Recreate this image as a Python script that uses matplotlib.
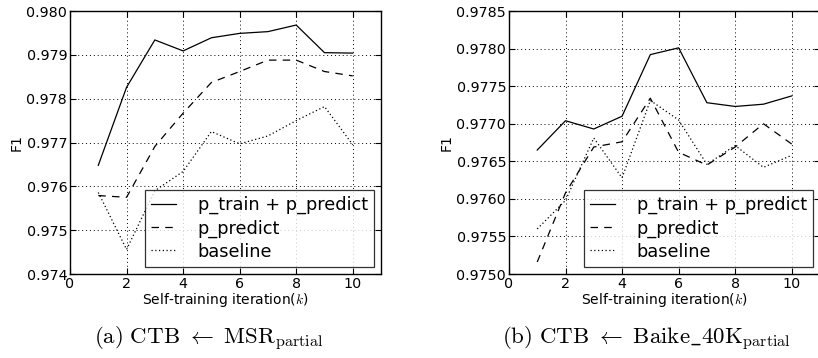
import matplotlib
matplotlib.use("Agg")
import matplotlib.pyplot as plt

# Self-training iterations
iters = [1, 2, 3, 4, 5, 6, 7, 8, 9, 10]

# (a) CTB <- MSR_partial
msr_train_predict = [0.97648, 0.97826, 0.97934, 0.97909, 0.97939, 0.97949, 0.97953, 0.97968, 0.97905, 0.97904]
msr_predict = [0.97579, 0.97575, 0.97691, 0.97767, 0.97837, 0.97862, 0.97888, 0.97888, 0.97862, 0.97852]
msr_baseline = [0.97586, 0.97456, 0.97590, 0.97634, 0.97725, 0.97697, 0.97715, 0.97750, 0.97782, 0.97695]

# (b) CTB <- Baike_40K_partial
baike_train_predict = [0.97665, 0.97704, 0.97693, 0.97710, 0.97792, 0.97801, 0.97728, 0.97723, 0.97726, 0.97737]
baike_predict = [0.97516, 0.97608, 0.97669, 0.97676, 0.97734, 0.97662, 0.97645, 0.97669, 0.97700, 0.97673]
baike_baseline = [0.97560, 0.97598, 0.97681, 0.97628, 0.97731, 0.97705, 0.97646, 0.97671, 0.97642, 0.97658]

series_labels = ["p_train + p_predict", "p_predict", "baseline"]
x_ticks = [0, 2, 4, 6, 8, 10]
msr_yticks = [0.974, 0.975, 0.976, 0.977, 0.978, 0.979, 0.980]
baike_yticks = [0.9750, 0.9755, 0.9760, 0.9765, 0.9770, 0.9775, 0.9780, 0.9785]

captions = [r"$\mathrm{(a)\ CTB}\ \leftarrow\ \mathrm{MSR}_{\mathrm{partial}}$",
            r"$\mathrm{(b)\ CTB}\ \leftarrow\ \mathrm{Baike\_40K}_{\mathrm{partial}}$"]

plt.rcParams["mathtext.fontset"] = "cm"
plt.rcParams["font.family"] = "DejaVu Sans"

fig = plt.figure(figsize=(8.18, 3.58), dpi=100)
ax_a = fig.add_axes([0.0856, 0.2346, 0.3802, 0.7346])
ax_b = fig.add_axes([0.6222, 0.2346, 0.3802, 0.7346])

styles = [dict(ls="-"), dict(ls=(0, (6, 5))), dict(ls=(0, (1, 2)))]


def draw(ax, ys, yticks, fmt):
    for y, lab, st in zip(ys, series_labels, styles):
        ax.plot(iters, y, color="black", lw=0.9, label=lab, **st)
    ax.set_xlim(0, 11)
    ax.set_ylim(yticks[0], yticks[-1])
    ax.set_xticks(x_ticks)
    ax.set_yticks(yticks)
    ax.set_yticklabels([fmt.format(v) for v in yticks])
    ax.tick_params(direction="in", length=4, top=True, right=True,
                   labelsize=10.3, pad=2)
    ax.grid(True, color="black", ls=(0, (1, 3)), lw=0.7)
    ax.set_xlabel(r"Self-training iteration($k$)", fontsize=10, labelpad=0)
    ax.set_ylabel("F1", fontsize=10, labelpad=2)
    leg = ax.legend(loc="lower right", fontsize=12.8, frameon=True,
                    fancybox=False, borderaxespad=0.4, handlelength=1.4,
                    handletextpad=1.2, labelspacing=0.28, borderpad=0.35)
    leg.get_frame().set_edgecolor("black")
    leg.get_frame().set_linewidth(0.9)
    for s in ax.spines.values():
        s.set_linewidth(1.0)


draw(ax_a, [msr_train_predict, msr_predict, msr_baseline], msr_yticks, "{:.3f}")
draw(ax_b, [baike_train_predict, baike_predict, baike_baseline], baike_yticks, "{:.4f}")

fig.text(0.255, 0.052, captions[0], ha="center", va="center", fontsize=16.5)
fig.text(0.790, 0.052, captions[1], ha="center", va="center", fontsize=16.5)

fig.savefig("out.png", dpi=100)
